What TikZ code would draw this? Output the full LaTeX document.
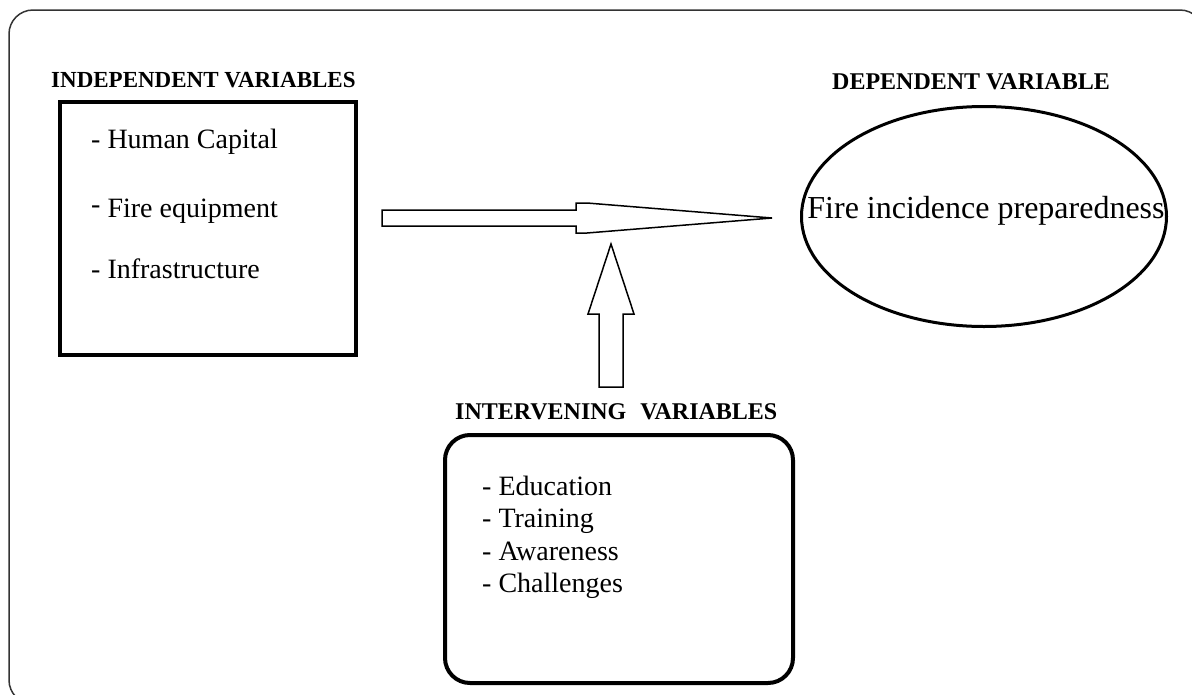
\documentclass[tikz,border=0pt]{standalone}
\usepackage{fontspec}
\setmainfont{Liberation Serif}
\usetikzlibrary{shapes.geometric}
\begin{document}
\begin{tikzpicture}[x=1pt,y=-1pt,
  hdr/.style={font=\fontsize{24}{28}\selectfont\bfseries, anchor=base west, inner sep=0pt},
  item/.style={font=\fontsize{28}{32}\selectfont, anchor=base west, inner sep=0pt},
  frame/.style={draw=black!80, line width=1.5pt, rounded corners=24pt},
  varbox/.style={draw, line width=4pt, inner sep=0pt},
  blockarrow/.style={draw, line width=1.5pt, fill=white, line join=miter}]
\useasboundingbox (0,0) rectangle (1192,694);
\clip (0,0) rectangle (1192,694);
% outer frame
\draw[frame] (9,10) rectangle (1204,704);

% independent variables
\node[hdr, font=\fontsize{23}{27}\selectfont\bfseries] (indephdr) at (51,87) {INDEPENDENT VARIABLES};
\node[varbox, minimum width=296pt, minimum height=253pt] (indep) at (208,228.5) {};
\node[item] (hc) at (91,148) {- Human Capital};
\node[item] (fe) at (91,217) {\raisebox{4pt}{-} Fire equipment};
\node[item] (inf) at (91,278) {- Infrastructure};

% dependent variable
\node[hdr] (dephdr) at (832,89) {DEPENDENT VARIABLE};
\node[varbox, ellipse, line width=3pt, minimum width=365pt, minimum height=220pt] (dep) at (984,216.5) {};
\node[font=\fontsize{32}{38}\selectfont, anchor=base, inner sep=0pt] (deptext) at (986,218) {Fire incidence preparedness};

% intervening variables
\node[hdr] (inthdr) at (455,419) {INTERVENING\hspace{14pt}VARIABLES};
\node[varbox, rounded corners=25pt, minimum width=348pt, minimum height=248pt] (inter) at (619,559) {};
\node[item] (edu) at (482,495) {- Education};
\node[item] (tra) at (482,527) {- Training};
\node[item] (awa) at (482,560) {- Awareness};
\node[item] (cha) at (482,592) {- Challenges};

% arrows
\coordinate (hstart) at (382,218);
\coordinate (htip) at (772,218);
\coordinate (vstart) at (611,387);
\coordinate (vtip) at (611,244);
\draw[blockarrow] ([yshift=8pt]hstart) -- (576,210) -- (576,203) -- (587,203) -- (htip)
  -- (587,233) -- (576,233) -- (576,226) -- ([yshift=-8pt]hstart) -- cycle;
\draw[blockarrow] ([xshift=-12pt]vstart) -- ([xshift=12pt]vstart) -- (623,314) -- (634,314) -- (vtip)
  -- (588,314) -- (599,314) -- cycle;
\end{tikzpicture}
\end{document}
